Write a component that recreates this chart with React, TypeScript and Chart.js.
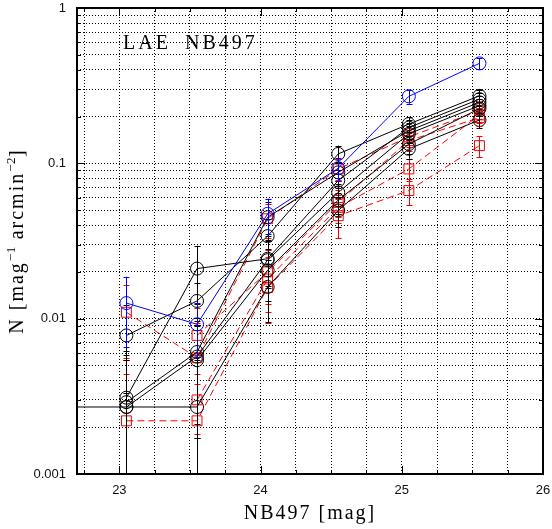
import React, { useEffect, useRef } from "react";
import { Chart, registerables } from "chart.js";

Chart.register(...registerables);

// ---- data ----
const magBins = [22.55, 23.05, 23.55, 24.05, 24.55, 25.05, 25.55];

const blueVals = [null, 0.0126, 0.0092, 0.0473, 0.093, 0.27, 0.44];
const blueErr = [null, 0.006, 0.0035, 0.012, 0.016, 0.028, 0.036];

const black1 = [null, 0.0078, 0.013, 0.034, 0.115, 0.179, 0.272];
const black1Err = [null, 0.0045, 0.004, 0.01, 0.015, 0.02, 0.025];
const black2 = [null, 0.0031, 0.021, 0.0243, 0.0775, 0.17, 0.259];
const black2Err = [null, 0.0031, 0.0085, 0.008, 0.013, 0.02, 0.025];
const black3 = [null, 0.0029, 0.0061, 0.045, 0.0875, 0.162, 0.247];
const black3Err = [null, 0.0029, 0.004, 0.011, 0.014, 0.019, 0.024];
const black4 = [null, 0.0027, 0.0057, 0.0238, 0.065, 0.155, 0.235];
const black4Err = [null, 0.0027, 0.004, 0.008, 0.012, 0.019, 0.024];
const black5 = [0.0027, 0.0027, 0.0027, 0.016, 0.0497, 0.124, 0.19];
const black5Err = [null, 0.0027, 0.0027, 0.0065, 0.011, 0.017, 0.022];
const black6 = [null, null, 0.0054, 0.0205, 0.058, 0.133, 0.225];
const black6Err = [null, null, 0.0037, 0.0075, 0.011, 0.018, 0.023];

const red1 = [null, 0.011, 0.0056, 0.044, 0.092, 0.148, 0.218];
const red1Err = [null, 0.0054, 0.0038, 0.011, 0.014, 0.02, 0.025];
const red2 = [null, null, 0.0078, 0.02, 0.056, 0.14, 0.197];
const red2Err = [null, null, 0.004, 0.0075, 0.011, 0.02, 0.023];
const red3 = [null, 0.0022, 0.0022, 0.0159, 0.046, 0.0668, 0.13];
const red3Err = [null, 0.0022, 0.0022, 0.0065, 0.013, 0.013, 0.02];
const red4 = [null, null, 0.003, 0.018, 0.052, 0.092, 0.205];
const red4Err = [null, null, 0.0028, 0.007, 0.011, 0.015, 0.023];

const xGridTicks = [22.75, 23, 23.25, 23.5, 23.75, 24, 24.25, 24.5, 24.75, 25, 25.25, 25.5, 25.75, 26];
const xLabelTicks = [23, 24, 25, 26];
const yGridTicks = [
  0.001, 0.002, 0.003, 0.004, 0.005, 0.006, 0.007, 0.008, 0.009,
  0.01, 0.02, 0.03, 0.04, 0.05, 0.06, 0.07, 0.08, 0.09,
  0.1, 0.2, 0.3, 0.4, 0.5, 0.6, 0.7, 0.8, 0.9, 1,
];
const yLabelTicks = [0.001, 0.01, 0.1, 1];
const yLabelTexts = ["0.001", "0.01", "0.1", "1"];

const BLUE = "#0000ff";
const BLACK = "#000000";
const RED = "#ff0000";

function pts(vals: (number | null)[], errs: (number | null)[]) {
  const out: any[] = [];
  vals.forEach((v, i) => {
    if (v != null) out.push({ x: magBins[i], y: v, e: errs[i] });
  });
  return out;
}

function makeDs(vals: any[], errs: any[], color: string, kind: "circle" | "rect", dashed: boolean) {
  return {
    data: pts(vals, errs),
    borderColor: color,
    backgroundColor: "rgba(0,0,0,0)",
    borderWidth: 1,
    borderDash: dashed ? [7, 4] : [],
    pointStyle: kind,
    pointRadius: kind === "circle" ? 6.5 : 7,
    pointBorderColor: color,
    pointBackgroundColor: "rgba(0,0,0,0)",
    pointBorderWidth: 1,
    showLine: true,
    tension: 0,
  };
}

const errorBarPlugin = {
  id: "errbars",
  afterDatasetsDraw(chart: any) {
    const { ctx, chartArea, scales } = chart;
    const xs = scales.x;
    const ys = scales.y;
    ctx.save();
    ctx.beginPath();
    ctx.rect(chartArea.left, chartArea.top, chartArea.right - chartArea.left, chartArea.bottom - chartArea.top);
    ctx.clip();
    const list = chart.data.datasets.slice().reverse();
    list.forEach((ds: any) => {
      ctx.strokeStyle = ds.borderColor;
      ctx.lineWidth = 1;
      ctx.setLineDash([]);
      ds.data.forEach((p: any) => {
        if (p.e == null) return;
        const x = Math.round(xs.getPixelForValue(p.x)) + 0.5;
        const lo = p.y - p.e;
        const yTop = ys.getPixelForValue(p.y + p.e);
        const yBot = lo > 0.0002 ? ys.getPixelForValue(lo) : chartArea.bottom + 5;
        ctx.beginPath();
        ctx.moveTo(x, yTop);
        ctx.lineTo(x, yBot);
        ctx.moveTo(x - 3, Math.round(yTop) + 0.5);
        ctx.lineTo(x + 3, Math.round(yTop) + 0.5);
        if (lo > 0.0002) {
          ctx.moveTo(x - 3, Math.round(yBot) + 0.5);
          ctx.lineTo(x + 3, Math.round(yBot) + 0.5);
        }
        ctx.stroke();
      });
    });
    ctx.restore();
  },
};

function drawSpaced(ctx: CanvasRenderingContext2D, text: string, x: number, y: number, spacing: number) {
  let cx = x;
  for (const ch of text) {
    ctx.fillText(ch, cx, y);
    cx += ctx.measureText(ch).width + spacing;
  }
  return cx;
}

function measureSpaced(ctx: CanvasRenderingContext2D, text: string, spacing: number) {
  let w = 0;
  for (const ch of text) w += ctx.measureText(ch).width + spacing;
  return w;
}

const framePlugin = {
  id: "frame",
  afterDraw(chart: any) {
    const { ctx, chartArea, scales } = chart;
    const { left, right, top, bottom } = chartArea;
    ctx.save();
    ctx.strokeStyle = "#000";
    ctx.lineWidth = 1;
    ctx.setLineDash([]);
    // inward tick marks
    ctx.beginPath();
    xGridTicks.forEach((v) => {
      const x = Math.round(scales.x.getPixelForValue(v)) + 0.5;
      const len = xLabelTicks.includes(v) ? 8 : 4;
      ctx.moveTo(x, bottom);
      ctx.lineTo(x, bottom - len);
      ctx.moveTo(x, top);
      ctx.lineTo(x, top + len);
    });
    yGridTicks.forEach((v) => {
      const y = Math.round(scales.y.getPixelForValue(v)) + 0.5;
      const len = yLabelTicks.includes(v) ? 8 : 4;
      ctx.moveTo(left, y);
      ctx.lineTo(left + len, y);
      ctx.moveTo(right, y);
      ctx.lineTo(right - len, y);
    });
    ctx.stroke();
    // frame
    ctx.lineWidth = 2;
    ctx.strokeRect(left, top, right - left, bottom - top);

    // texts
    ctx.fillStyle = "#000";
    ctx.textBaseline = "alphabetic";
    ctx.textAlign = "left";
    ctx.font = "20px 'Liberation Serif', serif";
    drawSpaced(ctx, "LAE", 123, 49, 3);
    drawSpaced(ctx, "NB497", 185, 49, 3);

    // x title
    ctx.font = "20px 'Liberation Serif', serif";
    const xt = "NB497 [mag]";
    const xw = measureSpaced(ctx, xt, 2);
    drawSpaced(ctx, xt, (left + right) / 2 - xw / 2, 519, 2);

    // y title (rotated), with superscripts
    const segs: [string, boolean][] = [
      ["N [mag", false],
      ["\u2212", true],
      ["1", true],
      [" arcmin", false],
      ["\u2212", true],
      ["2", true],
      ["]", false],
    ];
    const big = "20px 'Liberation Serif', serif";
    const small = "13px 'Liberation Serif', serif";
    let total = 0;
    segs.forEach(([t, sup]) => {
      ctx.font = sup ? small : big;
      total += measureSpaced(ctx, t, sup ? 0.5 : 2);
    });
    ctx.translate(23, (top + bottom) / 2);
    ctx.rotate(-Math.PI / 2);
    let cx = -total / 2;
    segs.forEach(([t, sup]) => {
      ctx.font = sup ? small : big;
      cx = drawSpaced(ctx, t, cx, sup ? -8 : 0, sup ? 0.5 : 2);
    });
    ctx.restore();
  },
};

export default function App() {
  const ref = useRef<HTMLCanvasElement | null>(null);
  useEffect(() => {
    document.body.style.margin = "0";
    const canvas = ref.current;
    if (!canvas) return;
    const datasets = [
      makeDs(blueVals, blueErr, BLUE, "circle", false),
      makeDs(black1, black1Err, BLACK, "circle", false),
      makeDs(black2, black2Err, BLACK, "circle", false),
      makeDs(black3, black3Err, BLACK, "circle", false),
      makeDs(black4, black4Err, BLACK, "circle", false),
      makeDs(black5, black5Err, BLACK, "circle", false),
      makeDs(black6, black6Err, BLACK, "circle", false),
      makeDs(red1, red1Err, RED, "rect", true),
      makeDs(red2, red2Err, RED, "rect", true),
      makeDs(red3, red3Err, RED, "rect", true),
      makeDs(red4, red4Err, RED, "rect", true),
    ];
    const chart = new Chart(canvas, {
      type: "scatter",
      data: { datasets: datasets as any },
      options: {
        animation: false,
        responsive: false,
        maintainAspectRatio: false,
        layout: { padding: { top: 7, right: 9, left: 0, bottom: 0 } },
        plugins: {
          legend: { display: false },
          tooltip: { enabled: false },
          title: { display: false },
        },
        scales: {
          x: {
            type: "linear",
            min: 22.7,
            max: 26,
            afterBuildTicks: (s: any) => {
              s.ticks = xGridTicks.map((v) => ({ value: v }));
            },
            afterFit: (s: any) => {
              s.height = 55;
              s.paddingLeft = 0;
              s.paddingRight = 0;
              s.paddingTop = 0;
              s.paddingBottom = 0;
            },
            ticks: {
              autoSkip: false,
              maxRotation: 0,
              padding: 9,
              color: "#111",
              font: { family: "'Liberation Sans', Arial, sans-serif", size: 13 },
              callback: (v: any) => (xLabelTicks.includes(Number(v)) ? String(v) : ""),
            },
            grid: { color: "#000", lineWidth: 1, drawTicks: false },
            border: { display: false, dash: [1, 2] },
          },
          y: {
            type: "logarithmic",
            min: 0.001,
            max: 1,
            afterBuildTicks: (s: any) => {
              s.ticks = yGridTicks.map((v) => ({ value: v }));
            },
            afterFit: (s: any) => {
              s.width = 77;
              s.paddingLeft = 0;
              s.paddingRight = 0;
              s.paddingTop = 0;
              s.paddingBottom = 0;
            },
            ticks: {
              autoSkip: false,
              padding: 11,
              color: "#111",
              font: { family: "'Liberation Sans', Arial, sans-serif", size: 13 },
              callback: (v: any) => {
                const i = yLabelTicks.indexOf(Number(v));
                return i >= 0 ? yLabelTexts[i] : "";
              },
            },
            grid: { color: "#000", lineWidth: 1, drawTicks: false },
            border: { display: false, dash: [1, 2] },
          },
        },
      },
      plugins: [errorBarPlugin, framePlugin],
    });
    return () => chart.destroy();
  }, []);
  return (
    <canvas ref={ref} width={552} height={529} style={{ display: "block", width: 552, height: 529 }} />
  );
}
